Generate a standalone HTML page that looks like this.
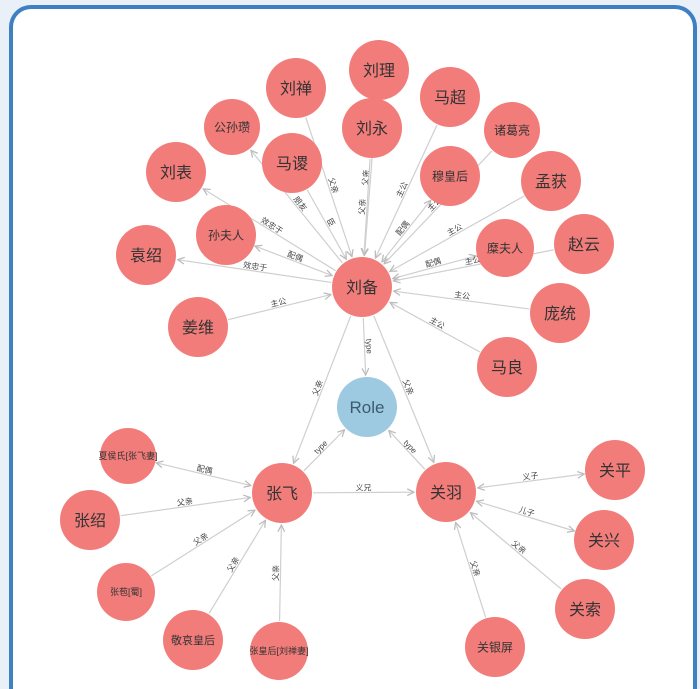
<!DOCTYPE html>
<html><head><meta charset="utf-8"><style>
html,body{margin:0;padding:0;width:700px;height:689px;overflow:hidden;background:#e9f0f8;}
#box{position:absolute;left:9px;top:5px;width:680px;height:680px;border:4px solid #3f7fc4;border-bottom:0;border-radius:22px 22px 0 0;background:#fff;}
svg{position:absolute;left:0;top:0;}
text{font-family:"Liberation Sans","Noto Sans CJK SC",sans-serif;}
</style></head><body>
<div id="box"></div>
<svg id="g" width="700" height="689" xmlns="http://www.w3.org/2000/svg">
<defs><marker id="a" viewBox="0 0 10 10" refX="9" refY="5" markerWidth="7" markerHeight="7" orient="auto-start-reverse"><path d="M1,1 L9,5 L1,9" fill="none" stroke="#bbb" stroke-width="1.5"/></marker></defs>
<g id="e"></g><g id="n"></g>
</svg>
<script>
var N={"刘理":[379,70,30],"刘禅":[296,88,30],"马超":[450,97,30],"刘永":[372,128,30],"诸葛亮":[512,130,28],"公孙瓒":[232,127,28],"马谡":[292,163,30],"穆皇后":[450,176,30],"刘表":[176,172,30],"孟获":[551,181,30],"孙夫人":[226,235,30],"赵云":[584,244,30],"糜夫人":[505,248,29],"袁绍":[146,255,30],"刘备":[362,287,30],"姜维":[198,327,30],"庞统":[560,313,30],"马良":[507,367,30],"Role":[367,407,30],"张飞":[282,493,30],"关羽":[446,492,30],"夏侯氏[张飞妻]":[128,456,28],"关平":[615,470,30],"张绍":[90,520,30],"关兴":[604,540,30],"张苞[蜀]":[126,592,29],"关索":[585,609,30],"敬哀皇后":[193,640,30],"张皇后[刘禅妻]":[279,651,29],"关银屏":[495,647,30]};
var E=[["刘禅","刘备","父亲",0],["刘理","刘备","父亲",0],["刘永","刘备","父亲",0],["马谡","刘备","臣",0],["刘备","公孙瓒","朋友",0],["刘备","刘表","效忠于",0],["刘备","袁绍","效忠于",0],["孙夫人","刘备","配偶",1],["姜维","刘备","主公",0],["马超","刘备","主公",0],["穆皇后","刘备","配偶",1],["诸葛亮","刘备","主公",0],["孟获","刘备","主公",0],["糜夫人","刘备","配偶",1],["赵云","刘备","主公",0],["庞统","刘备","主公",0],["马良","刘备","主公",0],["刘备","Role","type",0],["刘备","张飞","父亲",0],["刘备","关羽","父亲",0],["张飞","Role","type",0],["关羽","Role","type",0],["张飞","关羽","义兄",0],["夏侯氏[张飞妻]","张飞","配偶",1],["张绍","张飞","父亲",0],["张苞[蜀]","张飞","父亲",0],["敬哀皇后","张飞","父亲",0],["张皇后[刘禅妻]","张飞","父亲",0],["关平","关羽","义子",1],["关兴","关羽","儿子",1],["关索","关羽","父亲",0],["关银屏","关羽","父亲",0]];
var ns="http://www.w3.org/2000/svg",ge=document.getElementById("e"),gn=document.getElementById("n");
function el(t,a,p,tx){var e=document.createElementNS(ns,t);for(var k in a)e.setAttribute(k,a[k]);if(tx)e.textContent=tx;p.appendChild(e);return e;}
E.forEach(function(d){var A=N[d[0]],B=N[d[1]];var dx=B[0]-A[0],dy=B[1]-A[1],L=Math.hypot(dx,dy),ux=dx/L,uy=dy/L;
var x1=A[0]+ux*(A[2]+1),y1=A[1]+uy*(A[2]+1),x2=B[0]-ux*(B[2]+2),y2=B[1]-uy*(B[2]+2);
var at={x1:x1,y1:y1,x2:x2,y2:y2,stroke:"#cfcfcf","stroke-width":1.2,"marker-end":"url(#a)"};if(d[3])at["marker-start"]="url(#a)";
el("line",at,ge);
var mx=(x1+x2)/2,my=(y1+y2)/2,ang=Math.atan2(dy,dx)*180/Math.PI;if(ang>90)ang-=180;if(ang<-90)ang+=180;
el("text",{x:mx,y:my-2,"font-size":8,fill:"#444","text-anchor":"middle",transform:"rotate("+ang+" "+mx+" "+my+")"},ge,d[2]);});
for(var k in N){var c=N[k],role=k=="Role";el("circle",{cx:c[0],cy:c[1],r:c[2],fill:role?"#9ecae1":"#f27c7a"},gn);
var fs=k.length>=5?9:(k.length==3?12:(k.length==4?11:16));if(role)fs=17;
el("text",{x:c[0],y:c[1]+fs*0.36,"font-size":fs,fill:role?"#3a5a70":"#333","text-anchor":"middle"},gn,k);}
</script>
</body></html>
